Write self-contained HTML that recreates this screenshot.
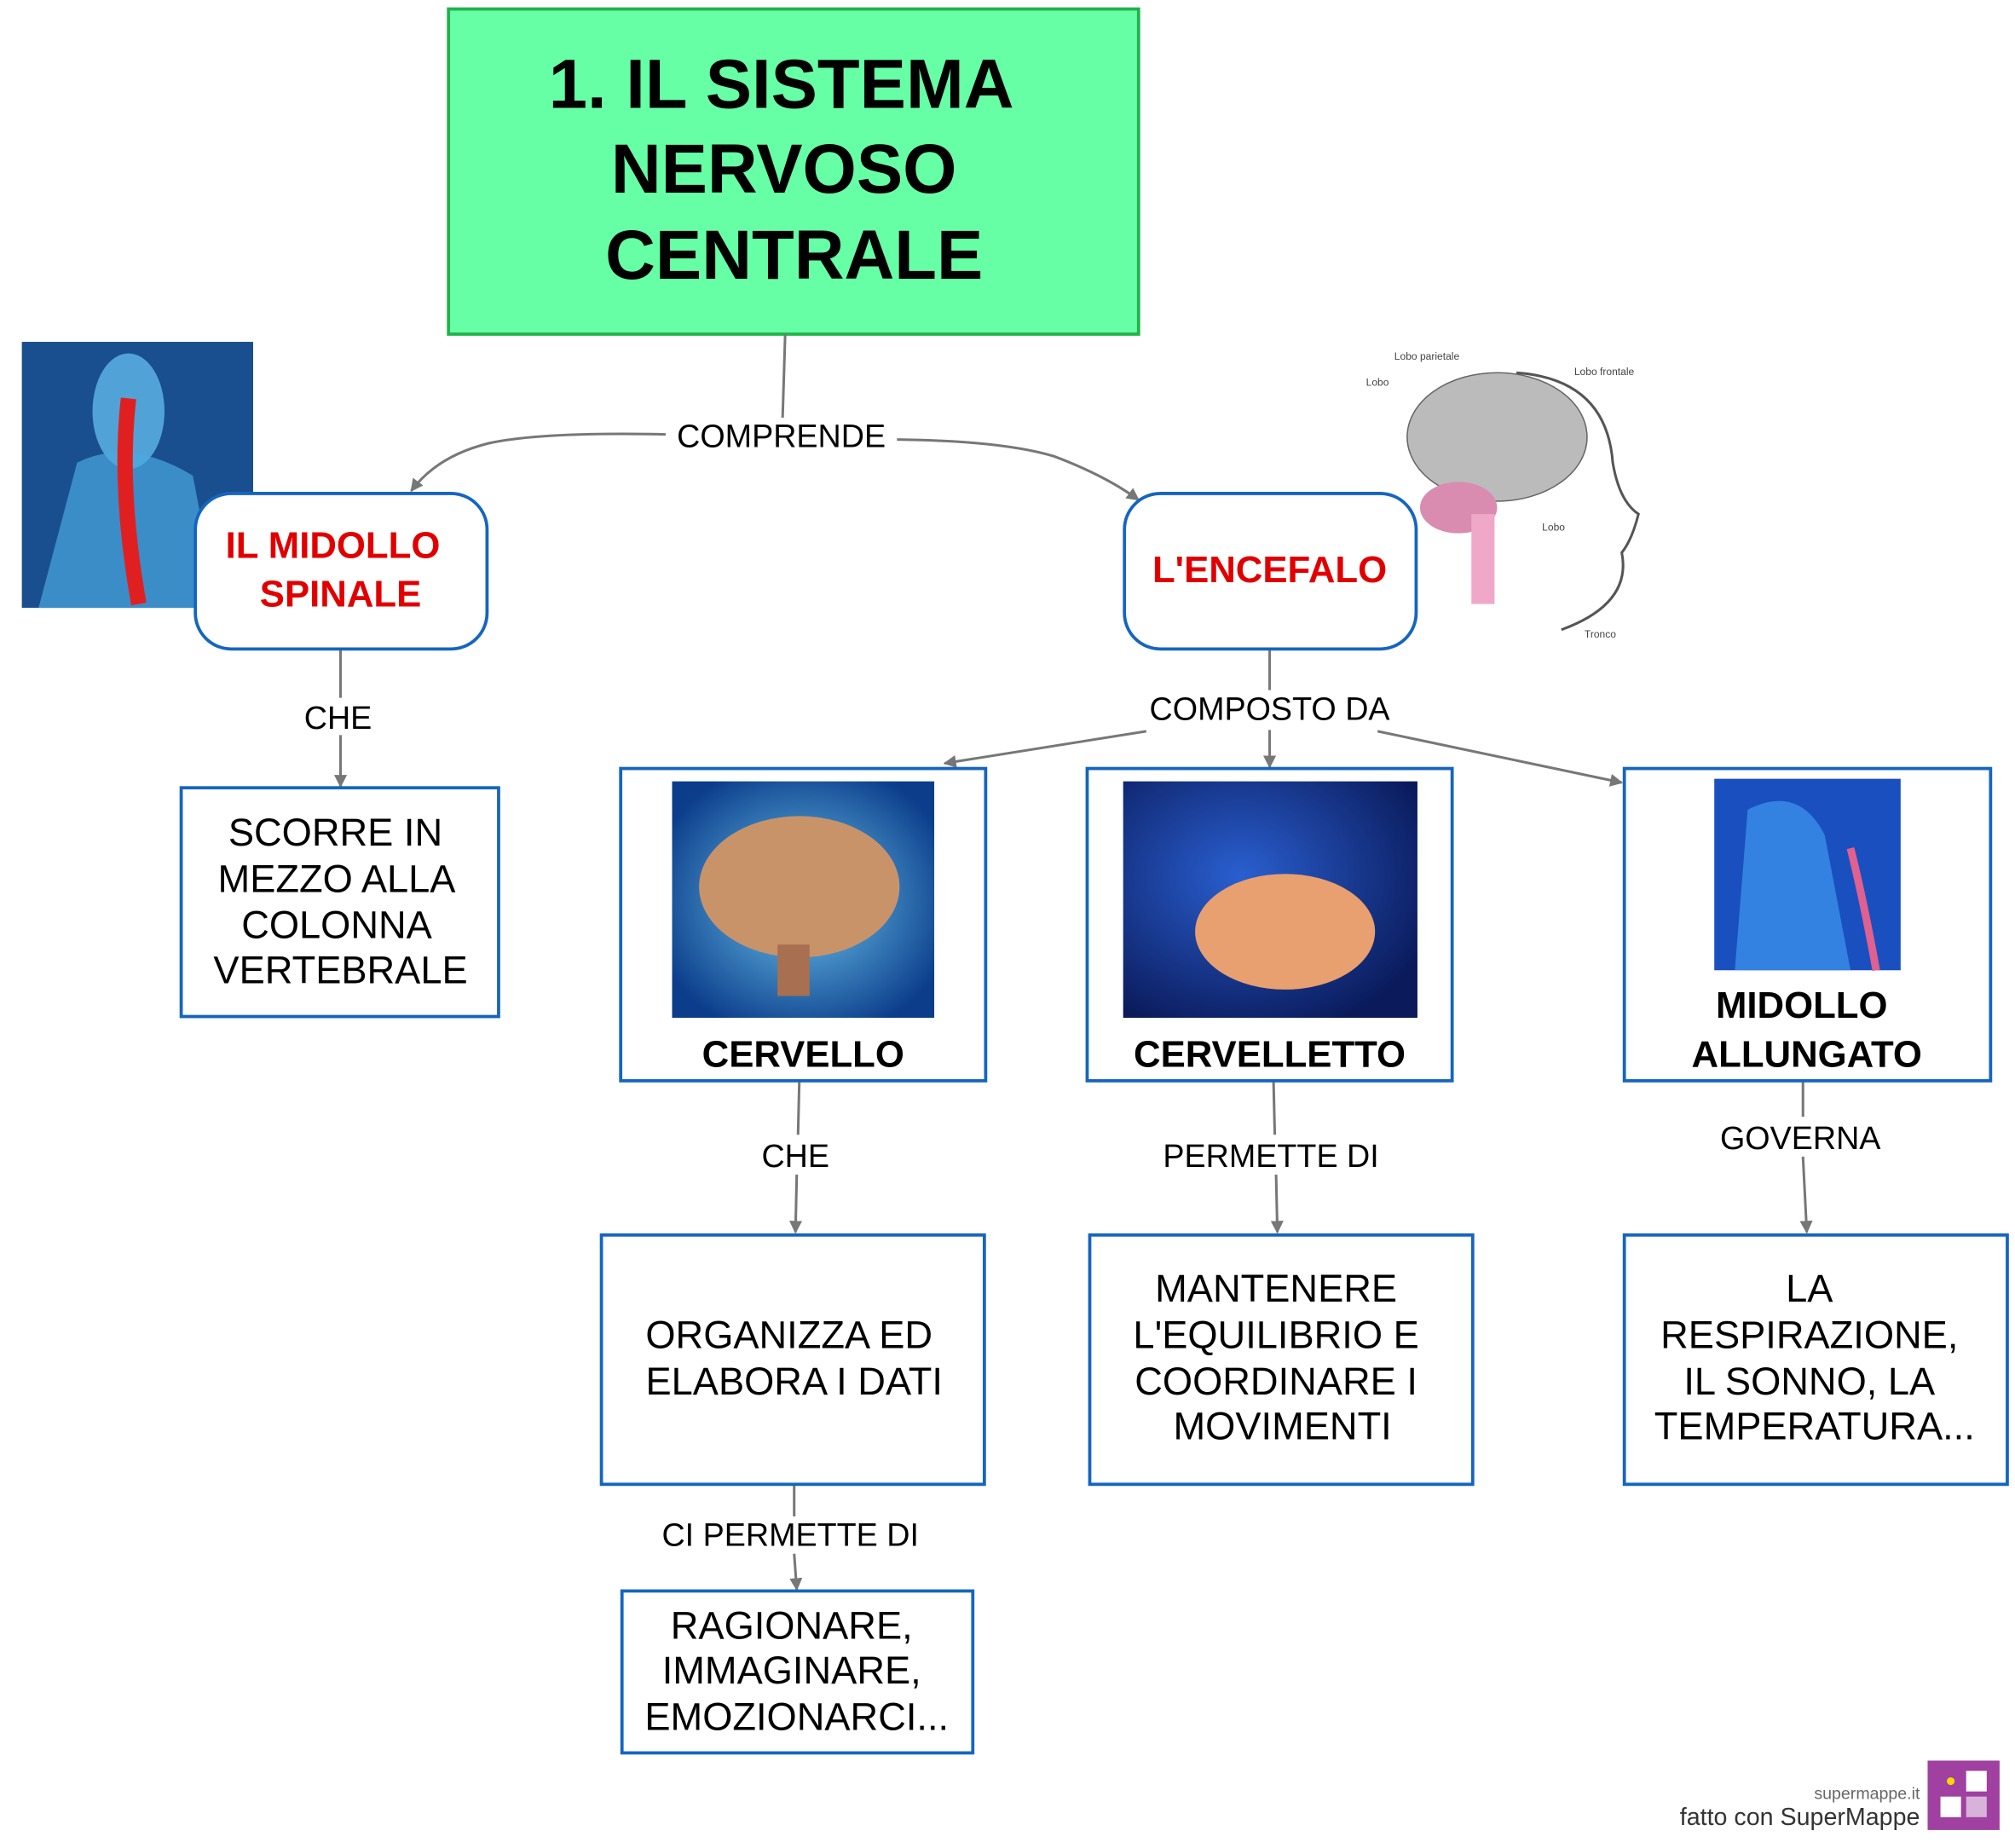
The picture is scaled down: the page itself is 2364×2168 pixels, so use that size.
<!DOCTYPE html>
<html><head><meta charset="utf-8"><style>
html,body{margin:0;padding:0;background:#fff;}
svg{display:block;}
text{font-family:"Liberation Sans",Arial,sans-serif;}
</style></head><body>
<svg width="2364" height="2168" viewBox="0 0 1568 1438" xmlns="http://www.w3.org/2000/svg">
<defs>
<marker id="ar" markerWidth="10" markerHeight="10" refX="9" refY="5" orient="auto" markerUnits="userSpaceOnUse">
<path d="M0,0 L10,5 L0,10 z" fill="#777"/></marker>
<radialGradient id="bl" cx="50%" cy="50%" r="60%"><stop offset="0" stop-color="#6fc8f0"/><stop offset="1" stop-color="#0b3d8a"/></radialGradient>
<radialGradient id="bl2" cx="40%" cy="40%" r="70%"><stop offset="0" stop-color="#2a5fd0"/><stop offset="1" stop-color="#0a1a5a"/></radialGradient>
</defs>
<!-- title -->
<rect x="349" y="7" width="537" height="253" fill="#66ffa6" stroke="#22b24c" stroke-width="2.5"/>
<g font-weight="bold" font-size="54" text-anchor="middle" fill="#000">
<text x="608" y="84">1. IL  SISTEMA</text>
<text x="610" y="150">NERVOSO</text>
<text x="618" y="217">CENTRALE</text>
</g>
<!-- spine image -->
<rect x="17" y="266" width="180" height="207" fill="#1a4f8f"/>
<ellipse cx="100" cy="320" rx="28" ry="45" fill="#5fb8e8" opacity="0.8"/>
<path d="M60 360 Q100 340 150 370 L170 473 L30 473 Z" fill="#4aa8e0" opacity="0.7"/>
<path d="M100 310 Q92 380 108 470" stroke="#e02020" stroke-width="12" fill="none"/>
<!-- brain drawing -->
<g>
<path d="M1180 290 Q1250 295 1255 360 Q1260 390 1275 400 Q1270 420 1262 430 Q1270 470 1215 490" fill="none" stroke="#555" stroke-width="2"/>
<ellipse cx="1165" cy="340" rx="70" ry="50" fill="#bbb" stroke="#666"/>
<ellipse cx="1135" cy="395" rx="30" ry="20" fill="#d98bb0"/>
<rect x="1145" y="400" width="18" height="70" fill="#f0a8c8"/>
<text x="1085" y="280" font-size="8" fill="#444">Lobo parietale</text>
<text x="1225" y="292" font-size="8" fill="#444">Lobo frontale</text>
<text x="1063" y="300" font-size="8" fill="#444">Lobo</text>
<text x="1200" y="413" font-size="8" fill="#444">Lobo</text>
<text x="1233" y="496" font-size="8" fill="#444">Tronco</text>
</g>
<!-- connectors -->
<g stroke="#777" stroke-width="2" fill="none">
<line x1="611" y1="260" x2="609" y2="325"/>
<path d="M518 338 Q420 336 380 345 Q340 355 320 382" marker-end="url(#ar)"/>
<path d="M698 342 Q780 343 820 355 Q860 370 886 389" marker-end="url(#ar)"/>
<line x1="265" y1="505" x2="265" y2="543"/>
<line x1="265" y1="572" x2="265" y2="612" marker-end="url(#ar)"/>
<line x1="988" y1="505" x2="988" y2="537"/>
<line x1="892" y1="569" x2="735" y2="594" marker-end="url(#ar)"/>
<line x1="988" y1="568" x2="988" y2="597" marker-end="url(#ar)"/>
<line x1="1072" y1="569" x2="1262" y2="609" marker-end="url(#ar)"/>
<line x1="622" y1="841" x2="621" y2="883"/>
<line x1="620" y1="914" x2="619" y2="959" marker-end="url(#ar)"/>
<line x1="991" y1="841" x2="992" y2="883"/>
<line x1="993" y1="914" x2="994" y2="959" marker-end="url(#ar)"/>
<line x1="1403" y1="841" x2="1403" y2="869"/>
<line x1="1403" y1="900" x2="1406" y2="959" marker-end="url(#ar)"/>
<line x1="618" y1="1155" x2="618" y2="1180"/>
<line x1="618" y1="1209" x2="620" y2="1237" marker-end="url(#ar)"/>
</g>
<g font-size="25" text-anchor="middle" fill="#000">
<text x="608" y="348">COMPRENDE</text>
<text x="263" y="567">CHE</text>
<text x="988" y="560">COMPOSTO DA</text>
<text x="619" y="908">CHE</text>
<text x="989" y="908">PERMETTE DI</text>
<text x="1401" y="894">GOVERNA</text>
<text x="615" y="1203">CI PERMETTE DI</text>
</g>
<!-- rounded nodes -->
<g fill="#fff" stroke="#1565c0" stroke-width="2.5">
<rect x="152" y="384" width="227" height="121" rx="28"/>
<rect x="875" y="384" width="227" height="121" rx="28"/>
</g>
<g font-size="29" font-weight="bold" fill="#e00000" text-anchor="middle">
<text x="259" y="434">IL  MIDOLLO</text>
<text x="265" y="472">SPINALE</text>
<text x="988" y="453">L'ENCEFALO</text>
</g>
<!-- rect boxes -->
<g fill="#fff" stroke="#1565c0" stroke-width="2.5">
<rect x="141" y="613" width="247" height="178"/>
<rect x="483" y="598" width="284" height="243"/>
<rect x="846" y="598" width="284" height="243"/>
<rect x="1264" y="598" width="285" height="243"/>
<rect x="468" y="961" width="298" height="194"/>
<rect x="848" y="961" width="298" height="194"/>
<rect x="1264" y="961" width="298" height="194"/>
<rect x="484" y="1238" width="273" height="126"/>
</g>
<!-- images in boxes -->
<rect x="523" y="608" width="204" height="184" fill="url(#bl)"/>
<ellipse cx="622" cy="690" rx="78" ry="55" fill="#c9936a"/>
<rect x="605" y="735" width="25" height="40" fill="#a87050"/>
<rect x="874" y="608" width="229" height="184" fill="url(#bl2)"/>
<ellipse cx="1000" cy="725" rx="70" ry="45" fill="#e8a070"/>
<rect x="1334" y="606" width="145" height="149" fill="#1a4fc0"/>
<path d="M1360 630 Q1400 610 1420 650 L1440 755 L1350 755 Z" fill="#3a8ee8" opacity="0.8"/>
<path d="M1440 660 Q1450 700 1460 755" stroke="#e06090" stroke-width="6" fill="none"/>
<g font-size="29" font-weight="bold" text-anchor="middle" fill="#000">
<text x="625" y="830">CERVELLO</text>
<text x="988" y="830">CERVELLETTO</text>
<text x="1402" y="792">MIDOLLO</text>
<text x="1406" y="830">ALLUNGATO</text>
</g>
<g font-size="30" text-anchor="middle" fill="#000">
<text x="261" y="658">SCORRE IN</text>
<text x="262" y="694">MEZZO ALLA</text>
<text x="262" y="730">COLONNA</text>
<text x="265" y="765">VERTEBRALE</text>
<text x="614" y="1049">ORGANIZZA ED</text>
<text x="618" y="1085">ELABORA I DATI</text>
<text x="993" y="1013">MANTENERE</text>
<text x="993" y="1049">L'EQUILIBRIO E</text>
<text x="993" y="1085">COORDINARE I</text>
<text x="998" y="1120">MOVIMENTI</text>
<text x="1408" y="1013">LA</text>
<text x="1408" y="1049">RESPIRAZIONE,</text>
<text x="1408" y="1085">IL SONNO, LA</text>
<text x="1412" y="1120">TEMPERATURA...</text>
<text x="616" y="1275">RAGIONARE,</text>
<text x="616" y="1310">IMMAGINARE,</text>
<text x="620" y="1346">EMOZIONARCI...</text>
</g>
<!-- logo -->
<text x="1494" y="1400" font-size="13" text-anchor="end" fill="#666" font-family="Liberation Mono,monospace">supermappe.it</text>
<text x="1494" y="1420" font-size="19" text-anchor="end" fill="#333" font-family="Liberation Mono,monospace">fatto con SuperMappe</text>
<rect x="1500" y="1370" width="56" height="54" fill="#a040a0"/>
<rect x="1510" y="1398" width="16" height="16" fill="#fff"/>
<rect x="1530" y="1378" width="16" height="16" fill="#fff"/>
<rect x="1530" y="1398" width="16" height="16" fill="#fff" opacity="0.6"/>
<circle cx="1518" cy="1386" r="3" fill="#ffd700"/>
</svg>
</body></html>
